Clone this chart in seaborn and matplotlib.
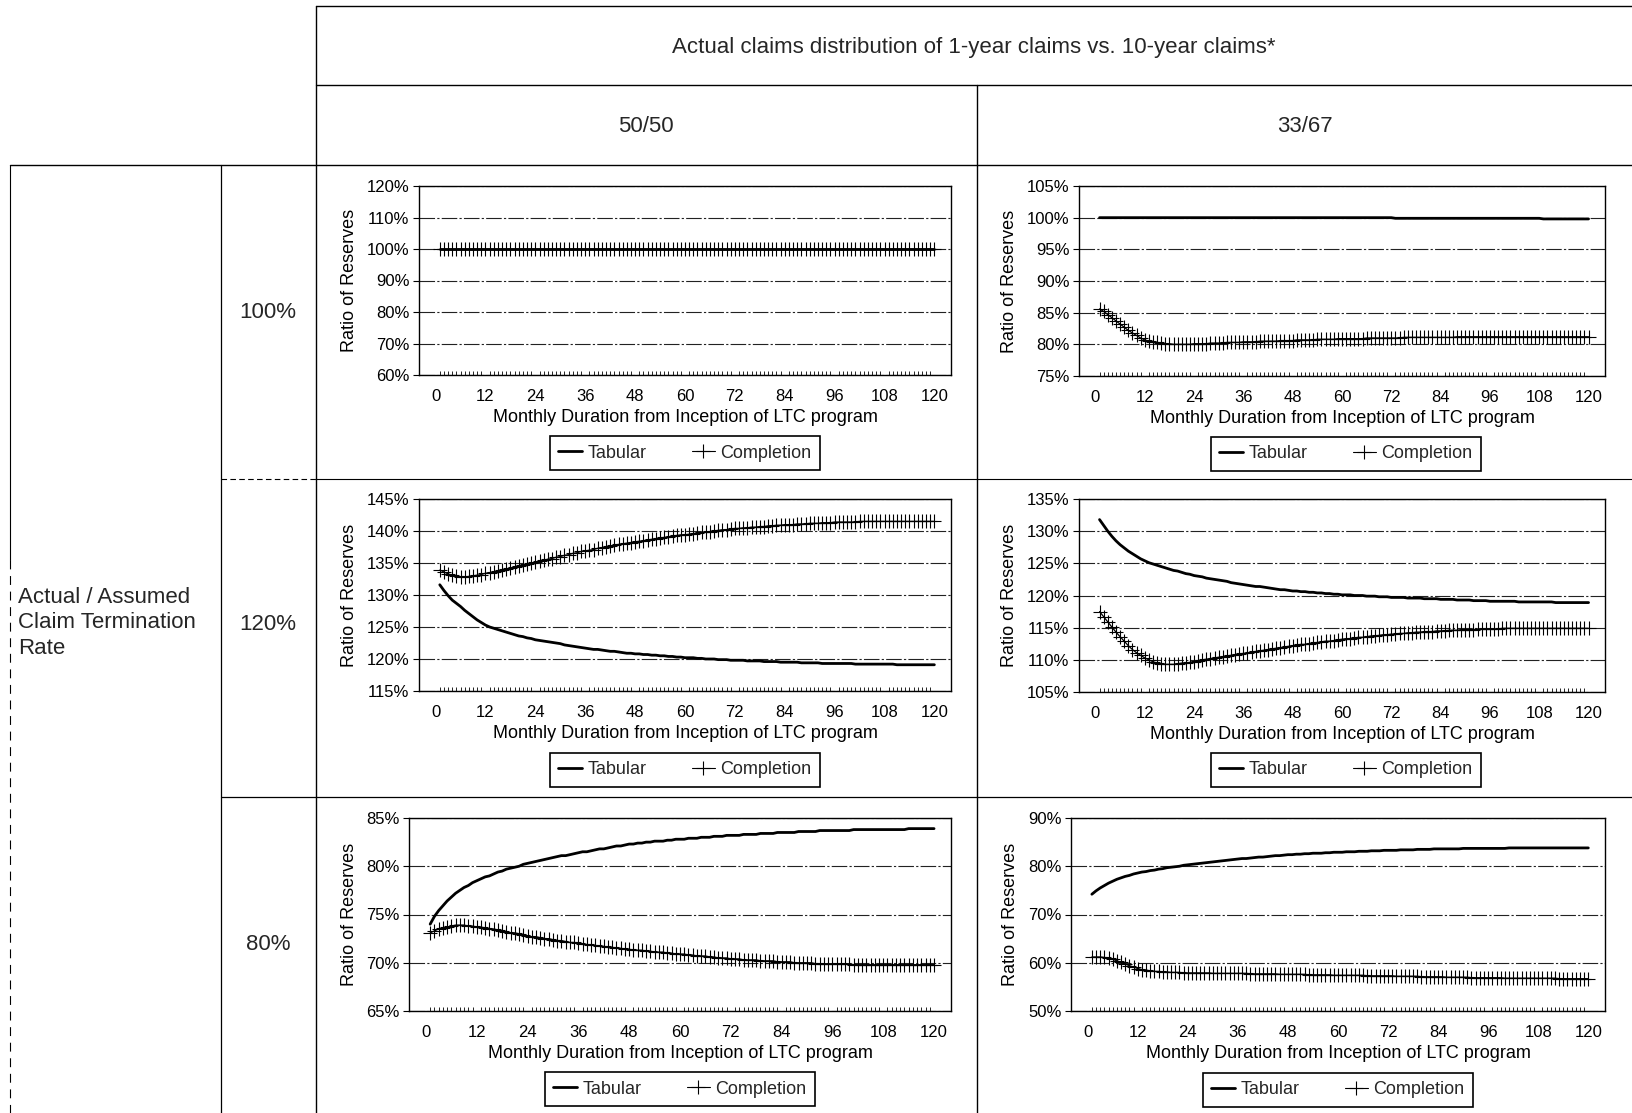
import numpy as np
import matplotlib
matplotlib.use('Agg')
import matplotlib.pyplot as plt
from matplotlib.lines import Line2D
from matplotlib.ticker import FuncFormatter, MultipleLocator, FixedLocator
import seaborn as sns

sns.set_theme(style='white')
plt.rcParams['font.family'] = ['Liberation Sans', 'DejaVu Sans']

W, H = 1633, 1113

header = 'Actual claims distribution of 1-year claims vs. 10-year claims*'
col_labels = ['50/50', '33/67']
row_labels = ['100%', '120%', '80%']
row_title = 'Actual / Assumed\nClaim Termination\nRate'
x_label = 'Monthly Duration from Inception of LTC program'
y_label = 'Ratio of Reserves'
series_names = ['Tabular', 'Completion']

months = np.arange(1, 121)
month_ticks = list(range(0, 121, 12))

# ratio of reserves (%), one value per month 1..120
tab_5050_100 = [100.0] * 120
comp_5050_100 = [100.0] * 120

tab_3367_100 = [100.0] * 72 + [99.9] * 36 + [99.8] * 12
comp_3367_100 = [
    85.6, 85.2, 84.7, 84.2, 83.7, 83.2, 82.7, 82.2, 81.8, 81.4, 81.0, 80.7,
    80.5, 80.4, 80.3, 80.2, 80.1, 80.1, 80.0, 80.0, 80.0, 80.0, 80.0, 80.1,
    80.1, 80.1, 80.1, 80.2, 80.2, 80.2, 80.2, 80.3, 80.3, 80.3, 80.3, 80.4,
    80.4, 80.4, 80.4, 80.5, 80.5, 80.5, 80.5, 80.5, 80.6, 80.6, 80.6, 80.6,
    80.7, 80.7, 80.7, 80.7, 80.7, 80.8, 80.8, 80.8, 80.8, 80.8, 80.9, 80.9,
    80.9, 80.9, 80.9, 80.9, 80.9, 81.0, 81.0, 81.0, 81.0, 81.0, 81.0, 81.0,
    81.0, 81.0, 81.1, 81.1, 81.1, 81.1, 81.1, 81.1, 81.1, 81.1, 81.1, 81.1,
    81.1, 81.1, 81.1, 81.2, 81.2, 81.2, 81.2, 81.2, 81.2, 81.2, 81.2, 81.2,
    81.2, 81.2, 81.2, 81.2, 81.2, 81.2, 81.2, 81.2, 81.2, 81.2, 81.2, 81.2,
    81.2, 81.2, 81.2, 81.2, 81.2, 81.2, 81.2, 81.2, 81.2, 81.2, 81.2, 81.2,
]

tab_5050_120 = [
    131.6, 130.7, 129.9, 129.2, 128.7, 128.2, 127.6, 127.1, 126.6, 126.1, 125.7, 125.3,
    125.0, 124.8, 124.6, 124.4, 124.2, 124.0, 123.8, 123.6, 123.5, 123.3, 123.2, 123.0,
    122.9, 122.8, 122.7, 122.6, 122.5, 122.4, 122.2, 122.1, 122.0, 121.9, 121.8, 121.7,
    121.6, 121.5, 121.5, 121.4, 121.3, 121.2, 121.2, 121.1, 121.0, 120.9, 120.9, 120.8,
    120.8, 120.7, 120.7, 120.6, 120.6, 120.5, 120.5, 120.4, 120.4, 120.3, 120.3, 120.2,
    120.2, 120.2, 120.1, 120.1, 120.0, 120.0, 120.0, 119.9, 119.9, 119.9, 119.8, 119.8,
    119.8, 119.8, 119.7, 119.7, 119.7, 119.7, 119.6, 119.6, 119.6, 119.6, 119.5, 119.5,
    119.5, 119.5, 119.5, 119.4, 119.4, 119.4, 119.4, 119.4, 119.3, 119.3, 119.3, 119.3,
    119.3, 119.3, 119.3, 119.3, 119.2, 119.2, 119.2, 119.2, 119.2, 119.2, 119.2, 119.2,
    119.2, 119.2, 119.1, 119.1, 119.1, 119.1, 119.1, 119.1, 119.1, 119.1, 119.1, 119.1,
]
comp_5050_120 = [
    133.9, 133.6, 133.3, 133.1, 132.9, 132.8, 132.8, 132.9, 133.0, 133.1, 133.2, 133.4,
    133.5, 133.6, 133.8, 133.9, 134.1, 134.2, 134.4, 134.5, 134.7, 134.8, 135.0, 135.1,
    135.3, 135.4, 135.6, 135.7, 135.9, 136.0, 136.2, 136.3, 136.5, 136.6, 136.8, 136.9,
    137.0, 137.1, 137.3, 137.4, 137.5, 137.6, 137.8, 137.9, 138.0, 138.1, 138.2, 138.3,
    138.4, 138.5, 138.6, 138.7, 138.8, 138.9, 139.0, 139.1, 139.2, 139.3, 139.4, 139.4,
    139.5, 139.6, 139.7, 139.8, 139.9, 139.9, 140.0, 140.1, 140.2, 140.2, 140.3, 140.4,
    140.4, 140.5, 140.5, 140.6, 140.6, 140.7, 140.7, 140.8, 140.8, 140.9, 140.9, 141.0,
    141.0, 141.0, 141.1, 141.1, 141.1, 141.2, 141.2, 141.2, 141.3, 141.3, 141.3, 141.4,
    141.4, 141.4, 141.4, 141.4, 141.4, 141.5, 141.5, 141.5, 141.5, 141.5, 141.5, 141.5,
    141.5, 141.5, 141.5, 141.5, 141.5, 141.5, 141.5, 141.5, 141.5, 141.5, 141.5, 141.5,
]

tab_3367_120 = [
    131.8, 130.9, 130.0, 129.2, 128.5, 127.9, 127.4, 126.9, 126.5, 126.1, 125.7, 125.4,
    125.1, 124.9, 124.7, 124.5, 124.3, 124.1, 123.9, 123.8, 123.6, 123.4, 123.3, 123.1,
    123.0, 122.9, 122.7, 122.6, 122.5, 122.4, 122.3, 122.2, 122.0, 121.9, 121.8, 121.7,
    121.6, 121.5, 121.4, 121.4, 121.3, 121.2, 121.1, 121.0, 120.9, 120.9, 120.8, 120.7,
    120.7, 120.6, 120.6, 120.5, 120.5, 120.4, 120.4, 120.3, 120.3, 120.2, 120.2, 120.1,
    120.1, 120.1, 120.0, 120.0, 120.0, 119.9, 119.9, 119.9, 119.8, 119.8, 119.8, 119.7,
    119.7, 119.7, 119.7, 119.6, 119.6, 119.6, 119.6, 119.5, 119.5, 119.5, 119.5, 119.4,
    119.4, 119.4, 119.4, 119.3, 119.3, 119.3, 119.3, 119.2, 119.2, 119.2, 119.2, 119.1,
    119.1, 119.1, 119.1, 119.1, 119.1, 119.1, 119.0, 119.0, 119.0, 119.0, 119.0, 119.0,
    119.0, 119.0, 119.0, 118.9, 118.9, 118.9, 118.9, 118.9, 118.9, 118.9, 118.9, 118.9,
]
comp_3367_120 = [
    117.5, 116.7, 115.9, 115.1, 114.3, 113.6, 112.9, 112.2, 111.6, 111.1, 110.7, 110.3,
    110.0, 109.7, 109.5, 109.4, 109.3, 109.3, 109.3, 109.4, 109.5, 109.5, 109.6, 109.7,
    109.8, 110.0, 110.1, 110.2, 110.3, 110.4, 110.5, 110.6, 110.7, 110.8, 110.9, 111.0,
    111.1, 111.2, 111.3, 111.4, 111.5, 111.6, 111.7, 111.8, 111.9, 112.0, 112.1, 112.2,
    112.3, 112.4, 112.4, 112.5, 112.6, 112.7, 112.8, 112.9, 112.9, 113.0, 113.1, 113.2,
    113.3, 113.3, 113.4, 113.5, 113.5, 113.6, 113.7, 113.7, 113.8, 113.9, 113.9, 114.0,
    114.0, 114.1, 114.1, 114.2, 114.2, 114.3, 114.3, 114.4, 114.4, 114.4, 114.5, 114.5,
    114.5, 114.6, 114.6, 114.6, 114.7, 114.7, 114.7, 114.7, 114.8, 114.8, 114.8, 114.8,
    114.8, 114.8, 114.9, 114.9, 114.9, 114.9, 114.9, 114.9, 114.9, 114.9, 114.9, 114.9,
    114.9, 114.9, 114.9, 114.9, 114.9, 114.9, 114.9, 114.9, 114.9, 114.9, 114.9, 114.9,
]

tab_5050_80 = [
    74.0, 74.8, 75.4, 75.9, 76.4, 76.8, 77.2, 77.5, 77.8, 78.0, 78.3, 78.5,
    78.7, 78.9, 79.0, 79.2, 79.4, 79.5, 79.7, 79.8, 79.9, 80.0, 80.2, 80.3,
    80.4, 80.5, 80.6, 80.7, 80.8, 80.9, 81.0, 81.1, 81.1, 81.2, 81.3, 81.4,
    81.5, 81.5, 81.6, 81.7, 81.8, 81.8, 81.9, 82.0, 82.1, 82.1, 82.2, 82.3,
    82.3, 82.4, 82.4, 82.5, 82.5, 82.6, 82.6, 82.6, 82.7, 82.7, 82.8, 82.8,
    82.8, 82.9, 82.9, 82.9, 83.0, 83.0, 83.0, 83.1, 83.1, 83.1, 83.2, 83.2,
    83.2, 83.2, 83.3, 83.3, 83.3, 83.3, 83.4, 83.4, 83.4, 83.4, 83.5, 83.5,
    83.5, 83.5, 83.5, 83.6, 83.6, 83.6, 83.6, 83.6, 83.7, 83.7, 83.7, 83.7,
    83.7, 83.7, 83.7, 83.7, 83.8, 83.8, 83.8, 83.8, 83.8, 83.8, 83.8, 83.8,
    83.8, 83.8, 83.8, 83.8, 83.8, 83.9, 83.9, 83.9, 83.9, 83.9, 83.9, 83.9,
]
comp_5050_80 = [
    73.1, 73.3, 73.5, 73.6, 73.7, 73.8, 73.9, 73.9, 73.9, 73.8, 73.8, 73.7,
    73.7, 73.6, 73.5, 73.5, 73.4, 73.3, 73.2, 73.1, 73.1, 73.0, 72.9, 72.8,
    72.7, 72.7, 72.6, 72.5, 72.5, 72.4, 72.3, 72.3, 72.2, 72.1, 72.1, 72.0,
    71.9, 71.9, 71.8, 71.8, 71.7, 71.7, 71.6, 71.6, 71.5, 71.5, 71.4, 71.4,
    71.3, 71.3, 71.3, 71.2, 71.2, 71.1, 71.1, 71.1, 71.0, 71.0, 70.9, 70.9,
    70.9, 70.8, 70.8, 70.7, 70.7, 70.7, 70.6, 70.6, 70.5, 70.5, 70.5, 70.4,
    70.4, 70.4, 70.3, 70.3, 70.3, 70.3, 70.2, 70.2, 70.2, 70.2, 70.1, 70.1,
    70.1, 70.1, 70.0, 70.0, 70.0, 70.0, 70.0, 69.9, 69.9, 69.9, 69.9, 69.9,
    69.9, 69.9, 69.9, 69.9, 69.8, 69.8, 69.8, 69.8, 69.8, 69.8, 69.8, 69.8,
    69.8, 69.8, 69.8, 69.8, 69.8, 69.8, 69.8, 69.8, 69.8, 69.8, 69.8, 69.8,
]

tab_3367_80 = [
    74.2, 74.9, 75.5, 76.0, 76.5, 76.9, 77.3, 77.6, 77.9, 78.1, 78.4, 78.6,
    78.8, 78.9, 79.1, 79.2, 79.4, 79.5, 79.7, 79.8, 79.9, 80.0, 80.2, 80.3,
    80.4, 80.5, 80.6, 80.7, 80.8, 80.9, 81.0, 81.1, 81.2, 81.3, 81.4, 81.5,
    81.6, 81.6, 81.7, 81.8, 81.9, 81.9, 82.0, 82.1, 82.2, 82.2, 82.3, 82.4,
    82.4, 82.5, 82.5, 82.6, 82.6, 82.7, 82.7, 82.7, 82.8, 82.8, 82.9, 82.9,
    82.9, 83.0, 83.0, 83.0, 83.1, 83.1, 83.1, 83.2, 83.2, 83.2, 83.3, 83.3,
    83.3, 83.3, 83.4, 83.4, 83.4, 83.4, 83.5, 83.5, 83.5, 83.5, 83.6, 83.6,
    83.6, 83.6, 83.6, 83.6, 83.6, 83.7, 83.7, 83.7, 83.7, 83.7, 83.7, 83.7,
    83.7, 83.7, 83.7, 83.7, 83.8, 83.8, 83.8, 83.8, 83.8, 83.8, 83.8, 83.8,
    83.8, 83.8, 83.8, 83.8, 83.8, 83.8, 83.8, 83.8, 83.8, 83.8, 83.8, 83.8,
]
comp_3367_80 = [
    61.2, 61.2, 61.2, 61.1, 60.9, 60.7, 60.4, 60.1, 59.7, 59.4, 59.1, 58.8,
    58.6, 58.5, 58.3, 58.2, 58.2, 58.1, 58.1, 58.0, 58.0, 58.0, 57.9, 57.9,
    57.9, 57.9, 57.9, 57.9, 57.9, 57.8, 57.8, 57.8, 57.8, 57.8, 57.8, 57.8,
    57.8, 57.8, 57.7, 57.7, 57.7, 57.7, 57.7, 57.7, 57.7, 57.6, 57.6, 57.6,
    57.6, 57.6, 57.6, 57.6, 57.5, 57.5, 57.5, 57.5, 57.5, 57.5, 57.4, 57.4,
    57.4, 57.4, 57.4, 57.4, 57.4, 57.4, 57.3, 57.3, 57.3, 57.3, 57.3, 57.3,
    57.3, 57.2, 57.2, 57.2, 57.2, 57.2, 57.2, 57.1, 57.1, 57.1, 57.1, 57.1,
    57.1, 57.0, 57.0, 57.0, 57.0, 57.0, 57.0, 56.9, 56.9, 56.9, 56.9, 56.9,
    56.9, 56.9, 56.9, 56.8, 56.8, 56.8, 56.8, 56.8, 56.8, 56.8, 56.8, 56.8,
    56.8, 56.8, 56.8, 56.8, 56.7, 56.7, 56.7, 56.7, 56.7, 56.7, 56.7, 56.7,
]

panel_data = [
    [(tab_5050_100, comp_5050_100), (tab_3367_100, comp_3367_100)],
    [(tab_5050_120, comp_5050_120), (tab_3367_120, comp_3367_120)],
    [(tab_5050_80, comp_5050_80), (tab_3367_80, comp_3367_80)],
]
y_ranges = [
    [(60, 120, 10), (75, 105, 5)],
    [(115, 145, 5), (105, 135, 5)],
    [(65, 85, 5), (50, 90, 10)],
]

# layout in pixels (left, top, right, bottom)
axes_px = [
    [(419, 186, 951, 375), (1079, 186, 1605, 376)],
    [(419, 499, 951, 691), (1079, 499, 1605, 692)],
    [(409, 818, 951, 1011), (1071, 818, 1605, 1011)],
]
legend_px = [
    [(685, 453), (1346, 454)],
    [(685, 770), (1346, 770)],
    [(680, 1089), (1338, 1090)],
]

fig = plt.figure(figsize=(W / 100, H / 100), dpi=100)


def fx(x):
    return x / W


def fy(y):
    return 1 - y / H


def hline(y, x0, x1, **kw):
    kw.setdefault('lw', 1.0)
    fig.add_artist(Line2D([fx(x0), fx(x1)], [fy(y), fy(y)],
                          transform=fig.transFigure, color='black', **kw))


def vline(x, y0, y1, **kw):
    kw.setdefault('lw', 1.0)
    fig.add_artist(Line2D([fx(x), fx(x)], [fy(y0), fy(y1)],
                          transform=fig.transFigure, color='black', **kw))


# table grid
hline(6, 316, W)
hline(85, 316, W)
hline(165, 10, W)
hline(479, 221, 316, ls=(0, (5, 3)), lw=0.8)
hline(479, 316, W, lw=0.8)
hline(797, 221, W, lw=0.9)
vline(316, 6, H)
vline(977, 85, H)
vline(10, 165, 560, lw=0.8)
vline(10, 560, H, lw=0.8, ls=(0, (8, 6)))
vline(221, 165, H, lw=0.9)

big = 16
fig.text(fx(974), fy(47), header, ha='center', va='center', fontsize=big)
fig.text(fx(646), fy(127), col_labels[0], ha='center', va='center', fontsize=big)
fig.text(fx(1305), fy(127), col_labels[1], ha='center', va='center', fontsize=big)
for lab, yy in zip(row_labels, [312, 625, 945]):
    fig.text(fx(268), fy(yy), lab, ha='center', va='center', fontsize=big)
fig.text(fx(18), fy(623), row_title, ha='left', va='center', fontsize=big,
         linespacing=1.3)

grid_style = dict(color='#222222', lw=0.8, linestyle=(0, (14, 2, 2, 2)))

for r in range(3):
    for c in range(2):
        l, t, rr, b = axes_px[r][c]
        ax = fig.add_axes([fx(l), fy(b), (rr - l) / W, (b - t) / H])
        tab, comp = panel_data[r][c]
        sns.lineplot(x=months, y=tab, ax=ax, color='black', linewidth=2.0,
                     errorbar=None, legend=False)
        sns.lineplot(x=months, y=comp, ax=ax, color='black', linewidth=0.9,
                     marker='+', markersize=10, markeredgewidth=0.8,
                     markeredgecolor='black', errorbar=None, legend=False)
        y0, y1, step = y_ranges[r][c]
        ax.set_ylim(y0, y1)
        ax.set_xlim(-4, 124)
        ax.yaxis.set_major_locator(MultipleLocator(step))
        ax.yaxis.set_major_formatter(FuncFormatter(lambda v, p: f'{v:.0f}%'))
        ax.xaxis.set_major_locator(FixedLocator(month_ticks))
        ax.xaxis.set_minor_locator(FixedLocator(months))
        ax.yaxis.grid(True, **grid_style)
        ax.set_axisbelow(True)
        for s in ax.spines.values():
            s.set_color('black')
            s.set_linewidth(1.0)
            s.set_visible(True)
        ax.tick_params(axis='y', which='major', left=True, length=4,
                       width=0.8, direction='out', pad=3, labelsize=12,
                       colors='black')
        ax.tick_params(axis='x', which='major', bottom=True, length=0,
                       pad=10, labelsize=12, colors='black')
        ax.tick_params(axis='x', which='minor', bottom=True, length=3,
                       width=0.6, direction='in', colors='black')
        ax.set_xlabel(x_label, fontsize=13, labelpad=4, color='black')
        ax.set_ylabel(y_label, fontsize=13, labelpad=6, color='black')

        handles = [Line2D([], [], color='black', lw=2.0),
                   Line2D([], [], color='black', lw=0.8, marker='+',
                          markersize=10, markeredgewidth=0.8)]
        cx, cy = legend_px[r][c]
        leg = ax.legend(handles, series_names, loc='center',
                        bbox_to_anchor=(fx(cx), fy(cy)),
                        bbox_transform=fig.transFigure, ncol=2,
                        frameon=True, fancybox=False, shadow=False,
                        edgecolor='black', fontsize=13, handlelength=1.3,
                        handletextpad=0.3, columnspacing=2.5,
                        borderpad=0.45, framealpha=1)
        leg.get_frame().set_linewidth(1.2)

fig.savefig('out.png', dpi=100)
